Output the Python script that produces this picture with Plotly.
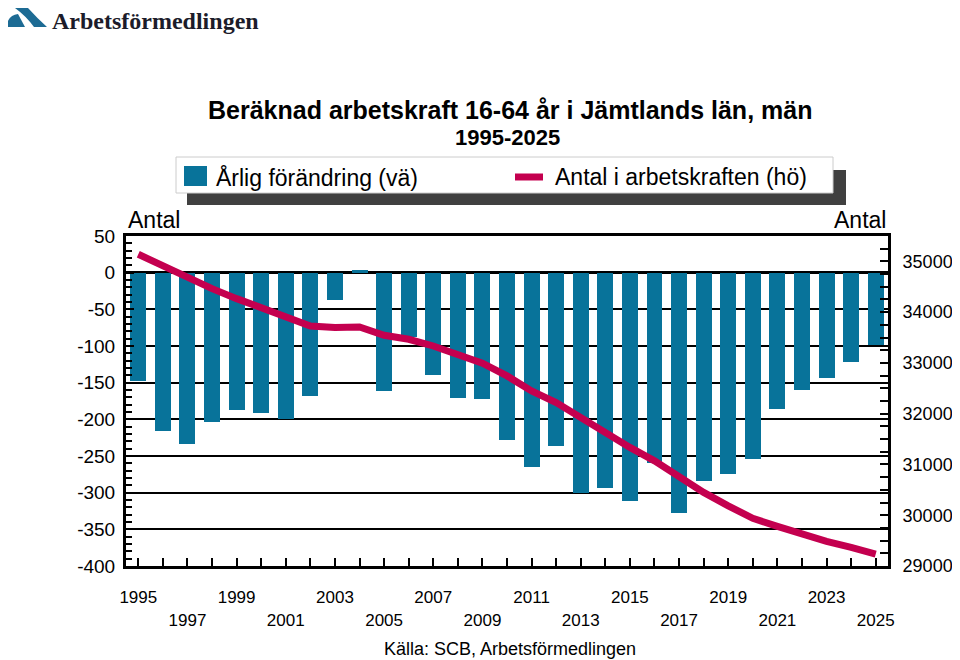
import plotly.graph_objects as go

years = list(range(1995, 2026))
annual_change = [-148, -216, -234, -203, -187, -191, -199, -168, -37, 3,
                 -162, -88, -139, -171, -172, -228, -265, -236, -300, -294,
                 -311, -259, -328, -284, -275, -254, -186, -160, -144, -122, -99]
labour_force = [35140, 34908, 34680, 34463, 34266, 34089, 33893, 33728, 33696, 33708,
                33545, 33466, 33334, 33171, 32994, 32744, 32449, 32220, 31925, 31597,
                31335, 31072, 30745, 30450, 30186, 29938, 29781, 29630, 29486, 29368, 29236]
tick_text = [(str(y) if i % 4 == 0 else "<br>" + str(y)) if i % 2 == 0 else "" for i, y in enumerate(years)]
left_ticks = list(range(-400, 51, 50))
left_text = [str(v) for v in left_ticks]
right_ticks = list(range(29000, 35001, 1000))
right_text = [str(v) for v in right_ticks]

BAR = "#08739A"
LINE = "#C4004F"
FONT = "Liberation Sans, Arial, sans-serif"
NARROW = "Liberation Sans Narrow, Liberation Sans, Arial, sans-serif"

# page offset from default body margin
OFF = 8
FW, FH = 960 - OFF, 660 - OFF
# plot area in page pixel coordinates
L, R, T, B = 126, 888, 236, 566
W, H = R - L, B - T

def px(x):
    return (x - L) / W

def py(y):
    return (B - y) / H

fig = go.Figure()
fig.add_trace(go.Bar(x=years, y=annual_change, width=0.65, marker=dict(color=BAR, line=dict(width=0)),
                     name="Årlig förändring (vä)", showlegend=False))
fig.add_trace(go.Scatter(x=years, y=labour_force, yaxis="y2", mode="lines",
                         line=dict(color=LINE, width=7), name="Antal i arbetskraften (hö)", showlegend=False))

shapes = []
shapes.append(dict(type="rect", xref="paper", yref="paper", x0=px(187), x1=px(846), y0=py(205), y1=py(170),
                   fillcolor="#404040", line=dict(width=0), layer="above"))
shapes.append(dict(type="rect", xref="paper", yref="paper", x0=px(176), x1=px(833), y0=py(193), y1=py(157),
                   fillcolor="white", line=dict(color="#cccccc", width=1), layer="above"))
shapes.append(dict(type="rect", xref="paper", yref="paper", x0=px(184), x1=px(207), y0=py(186), y1=py(166),
                   fillcolor=BAR, line=dict(width=0), layer="above"))
shapes.append(dict(type="line", xref="paper", yref="paper", x0=px(515), x1=px(543), y0=py(177), y1=py(177),
                   line=dict(color=LINE, width=7), layer="above"))

def path(pts):
    s = ""
    for cmd, coords in pts:
        s += cmd
        s += " ".join(f"{px(coords[i]):.5f},{py(coords[i+1]):.5f}" for i in range(0, len(coords), 2))
        s += " "
    return s + "Z"

logo1 = path([("M", [6, 27]), ("Q", [8, 15, 18, 14]), ("L", [25, 27])])
logo2 = path([("M", [15, 8]), ("L", [28, 8]), ("Q", [37, 18, 47, 27]), ("L", [34, 27]), ("Q", [26, 16, 15, 8])])
for p in (logo1, logo2):
    shapes.append(dict(type="path", xref="paper", yref="paper", path=p,
                       fillcolor="#1D6B94", line=dict(width=0), layer="above"))

annotations = [
    dict(text="<b>Beräknad arbetskraft 16-64 år i Jämtlands län, män</b>", x=px(510), y=py(110),
         xref="paper", yref="paper", showarrow=False, font=dict(family=FONT, size=25, color="black"),
         xanchor="center", yanchor="middle"),
    dict(text="<b>1995-2025</b>", x=px(507), y=py(137), xref="paper", yref="paper", showarrow=False,
         font=dict(family=FONT, size=22, color="black"), xanchor="center", yanchor="middle"),
    dict(text="Årlig förändring (vä)", x=px(214), y=py(177), xref="paper", yref="paper", showarrow=False,
         font=dict(family=FONT, size=23, color="black"), xanchor="left", yanchor="middle"),
    dict(text="Antal i arbetskraften (hö)", x=px(553), y=py(177), xref="paper", yref="paper", showarrow=False,
         font=dict(family=FONT, size=23, color="black"), xanchor="left", yanchor="middle"),
    dict(text="Antal", x=px(126), y=py(220), xref="paper", yref="paper", showarrow=False,
         font=dict(family=FONT, size=23, color="black"), xanchor="left", yanchor="middle"),
    dict(text="Antal", x=px(888), y=py(220), xref="paper", yref="paper", showarrow=False,
         font=dict(family=FONT, size=23, color="black"), xanchor="right", yanchor="middle"),
    dict(text="Källa: SCB, Arbetsförmedlingen", x=px(510), y=py(649), xref="paper", yref="paper",
         showarrow=False, font=dict(family=NARROW, size=18, color="black"), xanchor="center", yanchor="middle"),
    dict(text="<b>Arbetsförmedlingen</b>", x=px(50), y=py(21), xref="paper", yref="paper", showarrow=False,
         font=dict(family="Liberation Serif, DejaVu Serif, serif", size=24, color="#1c1c2a"),
         xanchor="left", yanchor="middle"),
]

fig.update_layout(
    width=FW, height=FH,
    margin=dict(l=L - OFF, r=FW - (R - OFF), t=T - OFF, b=FH - (B - OFF), autoexpand=False),
    paper_bgcolor="white", plot_bgcolor="white",
    showlegend=False, bargap=0,
    font=dict(family=FONT, size=18, color="black"),
    shapes=shapes, annotations=annotations,
    xaxis=dict(range=[1994.5, 2025.5], tickmode="array", tickvals=years, ticktext=tick_text,
               ticks="inside", ticklen=8, tickwidth=2, tickcolor="black",
               showline=True, linecolor="black", linewidth=3, mirror=True,
               showgrid=False, zeroline=False, tickangle=0, ticklabelstandoff=14,
               tickfont=dict(family=NARROW, size=17, color="black")),
    yaxis=dict(range=[-400, 50], tickmode="array", tickvals=left_ticks, ticktext=left_text,
               ticks="inside", ticklen=8, tickwidth=2, tickcolor="black",
               showline=True, linecolor="black", linewidth=3,
               showgrid=True, gridcolor="black", gridwidth=2,
               zeroline=True, zerolinecolor="black", zerolinewidth=2.5,
               minor=dict(dtick=10, tick0=0, ticks="inside", ticklen=6, tickwidth=2, tickcolor="black", showgrid=False),
               tickfont=dict(family=FONT, size=19, color="black"), ticklabelstandoff=4),
    yaxis2=dict(range=[29000, 35500], tickmode="array", tickvals=right_ticks, ticktext=right_text,
                overlaying="y", side="right", ticks="inside", ticklen=8, tickwidth=2, tickcolor="black",
                showline=True, linecolor="black", linewidth=3, showgrid=False, zeroline=False,
                minor=dict(dtick=250, tick0=29000, ticks="inside", ticklen=8, tickwidth=2, tickcolor="black", showgrid=False),
                tickfont=dict(family=FONT, size=18, color="black"), ticklabelstandoff=8),
)

fig.write_html("out.html")
